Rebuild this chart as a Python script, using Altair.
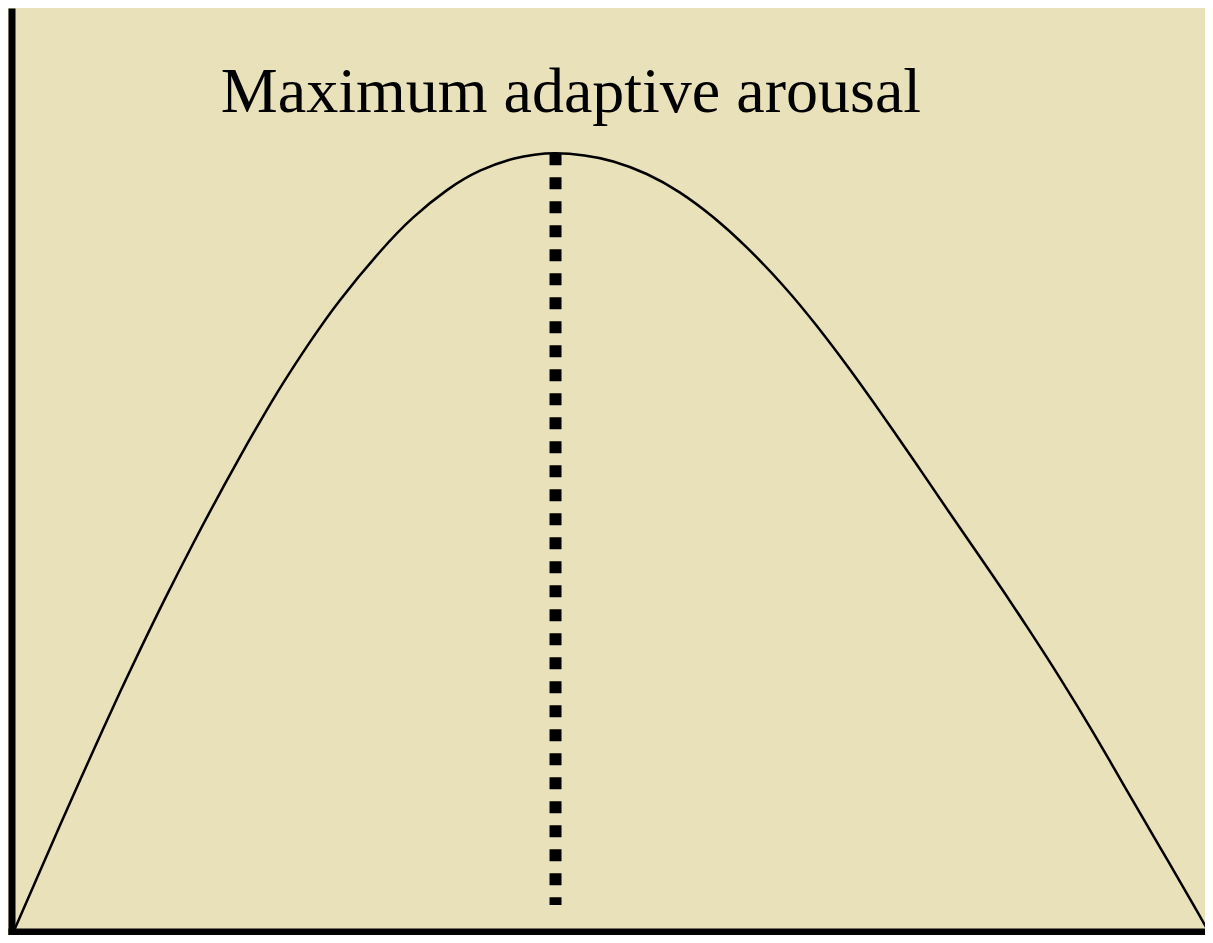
import altair as alt
import pandas as pd

# Arousal (0-100) vs performance (0-100)
arousal = [0.0, 2.26, 3.93, 5.60, 7.27, 8.94, 10.62, 12.71, 15.07, 17.03,
           18.98, 20.65, 22.59, 24.83, 27.33, 30.68, 33.46, 36.25, 39.04, 41.82,
           43.59, 45.36, 47.77, 50.18, 52.97, 55.76, 58.54, 61.33, 64.39, 67.18,
           69.97, 72.75, 75.54, 78.33, 81.94, 84.74, 87.52, 90.30, 93.09, 95.88,
           98.66, 100.0]
performance = [0.0, 7.96, 13.81, 19.58, 25.28, 30.87, 36.31, 42.88, 49.99, 55.66,
               61.10, 65.59, 70.55, 75.82, 81.17, 87.38, 91.78, 95.25, 97.77, 99.31,
               99.83, 100.0, 99.72, 98.95, 97.35, 94.96, 91.80, 87.94, 83.02, 77.88,
               72.23, 66.26, 60.09, 53.80, 45.75, 39.32, 32.70, 25.70, 18.34, 10.99,
               3.64, 0.0]

peak_x = [45.35]
peak_top = [100.0]
peak_bottom = [3.59]

label_text = ["Maximum adaptive arousal"]
label_x = [46.64]
label_y = [105.34]

curve = pd.DataFrame({"arousal": arousal, "performance": performance})
peak = pd.DataFrame({"x": peak_x, "y": peak_top, "y2": peak_bottom})
label = pd.DataFrame({"x": label_x, "y": label_y, "t": label_text})

xs = alt.Scale(domain=[-0.418, 99.64], nice=False, zero=False)
ys = alt.Scale(domain=[-0.257, 118.64], nice=False, zero=False)

line = alt.Chart(curve).mark_line(
    color="black", strokeWidth=2.5, interpolate="natural"
).encode(
    x=alt.X("arousal:Q", scale=xs,
            axis=alt.Axis(domainWidth=7, domainColor="black", ticks=False,
                          labels=False, grid=False, title=None, offset=-3.5)),
    y=alt.Y("performance:Q", scale=ys,
            axis=alt.Axis(domainWidth=7, domainColor="black", ticks=False,
                          labels=False, grid=False, title=None, offset=-3.5)),
)

dots = alt.Chart(peak).mark_rule(
    color="black", strokeWidth=12, strokeDash=[12, 12], strokeCap="butt"
).encode(
    x=alt.X("x:Q", scale=xs),
    y=alt.Y("y:Q", scale=ys),
    y2="y2:Q",
)

text = alt.Chart(label).mark_text(
    font="Liberation Serif", fontSize=64, align="center",
    baseline="alphabetic", color="black"
).encode(
    x=alt.X("x:Q", scale=xs),
    y=alt.Y("y:Q", scale=ys),
    text="t:N",
)

chart = alt.layer(dots, line, text).properties(
    width=1197, height=927,
    autosize=alt.AutoSizeParams(type="none"),
    padding=0,
    background="#E8E1B9",
).configure_view(stroke=None, clip=False)

chart.save("out.html", embed_options={"renderer": "svg", "actions": False})
